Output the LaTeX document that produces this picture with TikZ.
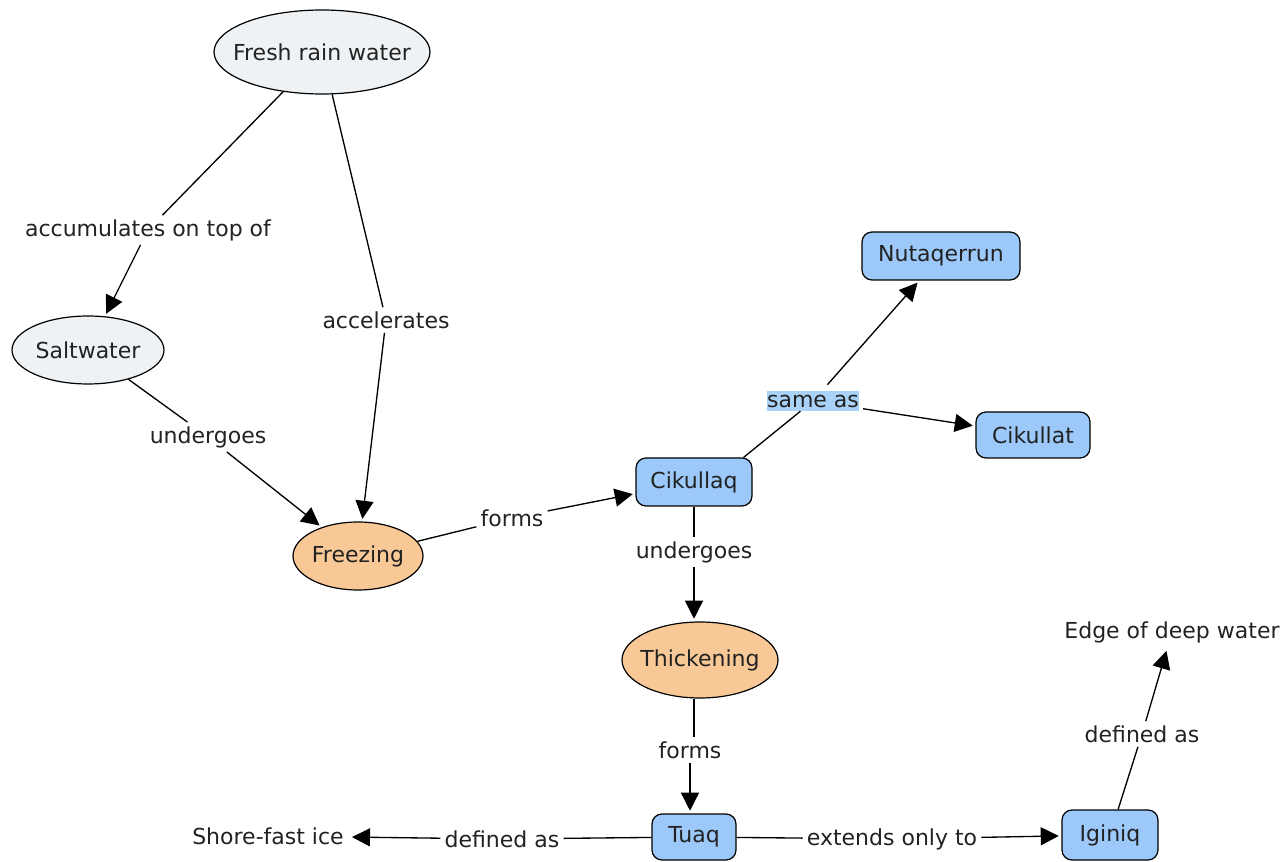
\documentclass[tikz,border=0pt]{standalone}
\usepackage{fontspec}
\setmainfont{DejaVu Sans}
\usetikzlibrary{shapes.geometric,arrows.meta}
\definecolor{greyfill}{HTML}{EEF2F4}
\definecolor{orangefill}{HTML}{F8C996}
\definecolor{bluefill}{HTML}{9CC9FA}
\definecolor{hilite}{HTML}{A9D2F8}
\definecolor{txt}{HTML}{222222}
\newcommand{\zw}[1]{\makebox[0pt]{#1}}
\tikzset{
  every node/.style={font=\fontsize{16.5pt}{20pt}\selectfont, text=txt},
  greyell/.style={ellipse, draw=black, line width=0.9pt, fill=greyfill, inner sep=0pt},
  orangeell/.style={ellipse, draw=black, line width=0.9pt, fill=orangefill, inner sep=0pt},
  bluebox/.style={rectangle, rounded corners=7.5pt, draw=black, line width=0.9pt, fill=bluefill, inner sep=0pt},
  plain/.style={inner sep=4pt},
  lbl/.style={inner sep=3pt},
  conn/.style={draw=black, line width=1pt},
  arr/.style={draw=black, line width=1pt, shorten >=2pt, -{Triangle[length=13.5pt,width=13.5pt]}}
}
\begin{document}
\begin{tikzpicture}[x=0.75pt, y=-0.75pt]
\useasboundingbox (0,0) rectangle (1286,862);
% concepts
\node[greyell, minimum width=162pt, minimum height=63pt] (fresh) at (322,52) {\zw{Fresh rain water}};
\node[greyell, minimum width=114pt, minimum height=51pt] (salt) at (88,350) {\zw{Saltwater}};
\node[orangeell, minimum width=97.5pt, minimum height=51pt] (freeze) at (358,556) {\zw{Freezing}};
\node[orangeell, minimum width=117pt, minimum height=57pt] (thick) at (700,660) {\zw{Thickening}};
\node[bluebox, minimum width=87pt, minimum height=36pt] (cikq) at (694,482) {Cikullaq};
\node[bluebox, minimum width=118.5pt, minimum height=36pt] (nutaq) at (941,256) {Nutaqerrun};
\node[bluebox, minimum width=85.5pt, minimum height=34.5pt] (cikt) at (1033,435) {Cikullat};
\node[bluebox, minimum width=63pt, minimum height=34.5pt] (tuaq) at (694,837) {Tuaq};
\node[bluebox, minimum width=72pt, minimum height=37.5pt] (iginiq) at (1110,835) {Iginiq};
\node[plain] (edge) at (1172,632) {Edge of deep water};
\node[plain] (shore) at (268,836) {Shore-fast ice};
% linking phrases
\node[lbl] (l1) at (148,230) {accumulates on top of};
\node[lbl] (l2) at (386,320) {accelerates};
\node[lbl] (l3) at (208,437) {undergoes};
\node[lbl] (l4) at (512,518) {forms};
\node[inner sep=0pt, fill=hilite, text height=12.5pt, text depth=2.5pt] (l5) at (813,401) {same as};
\node[lbl] (l6) at (694,552) {undergoes};
\node[lbl] (l7) at (690,750) {forms};
\node[lbl] (l8) at (1142,734) {defined as};
\node[lbl] (l9) at (502,839) {defined as};
\node[lbl] (l10) at (892,839) {extends only to};
% connectors
\draw[conn] (fresh) -- (l1); \draw[arr] (l1) -- (salt);
\draw[conn] (fresh) -- (l2); \draw[arr] (l2) -- (freeze);
\draw[conn] (salt) -- (l3); \draw[arr] (l3) -- (freeze);
\draw[conn] (freeze) -- (l4); \draw[arr] (l4) -- (cikq);
\draw[conn] (cikq.north east) ++(-9,0) -- (l5);
\draw[arr, shorten <=6pt] (l5) -- (nutaq);
\draw[arr, shorten <=3pt] (l5) -- (cikt);
\draw[conn] (cikq) -- (l6); \draw[arr] (l6) -- (l6 |- thick.north);
\draw[conn] (thick.south -| l6) -- (l6 |- l7.north); \draw[arr] (l7) -- (l7 |- tuaq.north);
\draw[conn] (iginiq) -- (l8); \draw[arr] (l8) -- (edge);
\draw[conn] (tuaq) -- (l9); \draw[arr] (l9) -- (shore);
\draw[conn] (tuaq) -- (l10); \draw[arr] (l10) -- (iginiq);
\end{tikzpicture}
\end{document}
